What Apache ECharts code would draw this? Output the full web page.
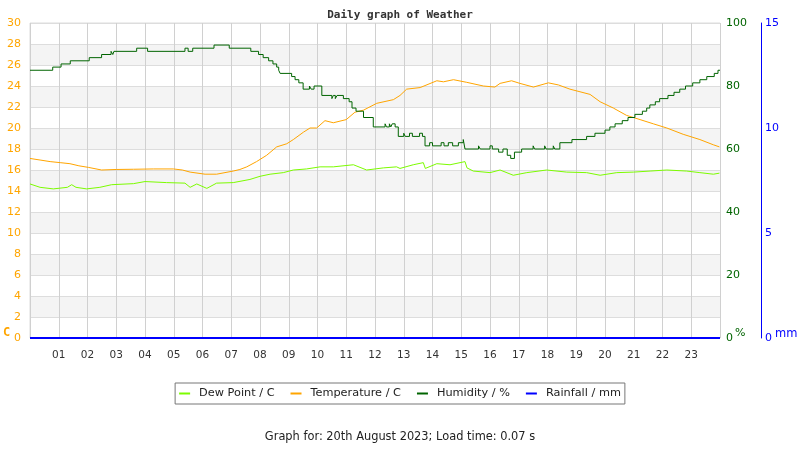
<!DOCTYPE html>
<html>
<head>
<meta charset="utf-8">
<script src="https://cdn.jsdelivr.net/npm/echarts@6/dist/echarts.min.js"></script>
<style>html,body{margin:0;padding:0;background:#fff}#c{width:800px;height:450px}</style>
</head>
<body>
<div id="c"></div>
<script>
var hourTicks = ['01','02','03','04','05','06','07','08','09','10','11','12','13','14','15','16','17','18','19','20','21','22','23'];
var humidity = [[0,85],[0.79,86],[1.08,87],[1.4,88],[2.06,89],[2.49,90],[2.82,91],[2.88,90],[2.92,91],[3.71,92],[4.09,91],[5.39,92],[5.5,91],[5.66,92],[6.4,93],[6.93,92],[7.68,91],[7.95,90],[8.11,89],[8.3,88],[8.45,87],[8.58,86],[8.65,85],[8.7,84],[9.1,83],[9.22,82],[9.35,81],[9.5,79],[9.72,80],[9.78,79],[9.88,80],[10.15,77],[10.5,76],[10.55,77],[10.62,76],[10.68,77],[10.9,76],[11.1,75],[11.2,73],[11.34,72],[11.6,70],[11.94,67],[12.35,68],[12.4,67],[12.5,68],[12.55,67],[12.6,68],[12.7,67],[12.81,64],[13.0,65],[13.05,64],[13.2,65],[13.3,64],[13.55,65],[13.65,64],[13.74,61],[13.9,62],[14.0,61],[14.3,62],[14.4,61],[14.55,62],[14.7,61],[14.9,62],[15.07,63],[15.13,60],[15.6,61],[15.66,60],[16.0,61],[16.08,60],[16.3,59],[16.45,60],[16.6,58],[16.72,57],[16.85,59],[17.1,60],[17.5,61],[17.55,60],[17.9,61],[17.95,60],[18.2,61],[18.25,60],[18.43,62],[18.85,63],[19.36,64],[19.65,65],[20.0,66],[20.17,67],[20.35,68],[20.6,69],[20.8,70],[21.04,71],[21.3,72],[21.45,73],[21.56,74],[21.75,75],[21.9,76],[22.19,77],[22.4,78],[22.6,79],[22.8,80],[23.05,81],[23.3,82],[23.54,83],[23.8,84],[23.93,85],[24,85]];
var temperature = [[0,17.1],[0.35,16.95],[0.7,16.8],[1.05,16.7],[1.39,16.6],[1.7,16.4],[2.03,16.25],[2.49,16.0],[3.0,16.05],[3.6,16.07],[4.3,16.1],[4.99,16.1],[5.3,16.0],[5.57,15.8],[6.09,15.6],[6.49,15.6],[7.07,15.9],[7.3,16.05],[7.54,16.3],[7.88,16.8],[8.23,17.4],[8.58,18.2],[8.93,18.5],[9.16,18.9],[9.51,19.6],[9.74,20.0],[9.97,20.0],[10.26,20.7],[10.55,20.5],[11.0,20.8],[11.3,21.5],[11.6,21.7],[12.06,22.35],[12.64,22.7],[12.87,23.1],[13.1,23.7],[13.57,23.85],[14.15,24.5],[14.38,24.4],[14.73,24.6],[15.19,24.35],[15.77,24.0],[16.17,23.9],[16.35,24.25],[16.75,24.5],[17.04,24.25],[17.51,23.9],[18.03,24.3],[18.38,24.1],[18.78,23.7],[19.48,23.2],[19.83,22.5],[20.29,21.9],[20.75,21.2],[21.22,20.8],[21.68,20.4],[22.15,20.0],[22.72,19.4],[23.3,18.9],[23.77,18.4],[23.98,18.2]];
var dewPoint = [[0,14.67],[0.35,14.35],[0.81,14.2],[1.3,14.35],[1.45,14.6],[1.6,14.35],[1.97,14.2],[2.43,14.35],[2.84,14.6],[3.6,14.7],[4.0,14.9],[4.75,14.8],[5.39,14.75],[5.57,14.35],[5.8,14.67],[6.15,14.25],[6.49,14.75],[7.07,14.8],[7.65,15.1],[8.0,15.4],[8.35,15.6],[8.81,15.75],[9.16,16.0],[9.62,16.1],[10.09,16.3],[10.55,16.3],[11.25,16.5],[11.71,16.0],[12.29,16.2],[12.75,16.3],[12.87,16.15],[13.33,16.5],[13.68,16.7],[13.75,16.15],[14.15,16.6],[14.61,16.5],[15.13,16.8],[15.2,16.2],[15.42,15.9],[16.0,15.75],[16.35,16.0],[16.81,15.5],[17.28,15.75],[17.97,16.0],[18.67,15.8],[19.36,15.75],[19.83,15.5],[20.41,15.75],[20.99,15.8],[21.57,15.9],[22.15,16.0],[22.84,15.9],[23.3,15.75],[23.77,15.6],[23.98,15.7]];
var rainfall = [[0,0],[24,0]];

var chart = echarts.init(document.getElementById('c'), null, {renderer:'canvas'});
var font = 'DejaVu Sans';
chart.setOption({
  animation: false,
  backgroundColor: '#fff',
  title: {
    text: 'Daily graph of Weather', left: 'center', top: 5,
    textStyle: {fontFamily: 'DejaVu Sans Mono', fontWeight: 'bold', fontSize: 11, color: '#333'}
  },
  legend: {
    top: 383, left: 'center',
    borderColor: '#777', borderWidth: 1, padding: [5, 4], itemGap: 16,
    icon: 'rect', itemWidth: 11, itemHeight: 2,
    textStyle: {fontFamily: font, fontSize: 11.3, color: '#222', padding: [0, 0, 0, 4]},
    data: ['Dew Point / C', 'Temperature / C', 'Humidity / %', 'Rainfall / mm']
  },
  grid: {left: 30, right: 80, top: 23, bottom: 112, show: true, borderColor: '#ddd', borderWidth: 1},
  xAxis: {
    type: 'value', min: 0, max: 24, interval: 1,
    axisLine: {show: false}, axisTick: {show: false},
    axisLabel: {
      fontFamily: font, fontSize: 10.5, color: '#333', margin: 12,
      formatter: function (v) { return (v > 0 && v < 24) ? hourTicks[v - 1] : ''; }
    },
    splitLine: {show: true, lineStyle: {color: '#d0d0d0'}}
  },
  yAxis: [
    {
      type: 'value', min: 0, max: 30, interval: 2, position: 'left',
      axisLine: {show: false}, axisTick: {show: false},
      axisLabel: {fontFamily: font, fontSize: 11, color: '#ffa500', margin: 9},
      splitLine: {show: true, lineStyle: {color: '#dddddd'}},
      splitArea: {show: true, areaStyle: {color: ['#ffffff', '#f4f4f4']}}
    },
    {
      type: 'value', min: 0, max: 100, interval: 20, position: 'right',
      axisLine: {show: false}, axisTick: {show: false},
      axisLabel: {fontFamily: font, fontSize: 11, color: '#006400', margin: 6},
      splitLine: {show: false}
    },
    {
      type: 'value', min: 0, max: 15, interval: 5, position: 'right', offset: 41,
      axisLine: {show: true, lineStyle: {color: '#0000ff', width: 1}}, axisTick: {show: false},
      axisLabel: {fontFamily: font, fontSize: 11, color: '#0000ff', margin: 4},
      splitLine: {show: false}
    }
  ],
  graphic: [
    {type: 'text', left: 3, top: 327, style: {text: 'C', fill: '#ffa500', font: 'bold 12px "DejaVu Sans Mono"'}},
    {type: 'text', left: 735, top: 328, style: {text: '%', fill: '#006400', font: '11px "DejaVu Sans"'}},
    {type: 'text', left: 775, top: 328, style: {text: 'mm', fill: '#0000ff', font: '11.5px "DejaVu Sans"'}},
    {type: 'text', left: 'center', top: 432, style: {text: 'Graph for: 20th August 2023; Load time: 0.07 s', fill: '#222', font: '11.4px "DejaVu Sans"'}}
  ],
  series: [
    {name: 'Dew Point / C', type: 'line', yAxisIndex: 0, data: dewPoint, showSymbol: false, color: '#7cfc00', lineStyle: {width: 1}},
    {name: 'Temperature / C', type: 'line', yAxisIndex: 0, data: temperature, showSymbol: false, color: '#ffa500', lineStyle: {width: 1}},
    {name: 'Humidity / %', type: 'line', yAxisIndex: 1, data: humidity, step: 'end', showSymbol: false, color: '#006400', lineStyle: {width: 1}},
    {name: 'Rainfall / mm', type: 'line', yAxisIndex: 2, data: rainfall, showSymbol: false, color: '#0000ff', lineStyle: {width: 2}}
  ]
});
</script>
</body>
</html>
